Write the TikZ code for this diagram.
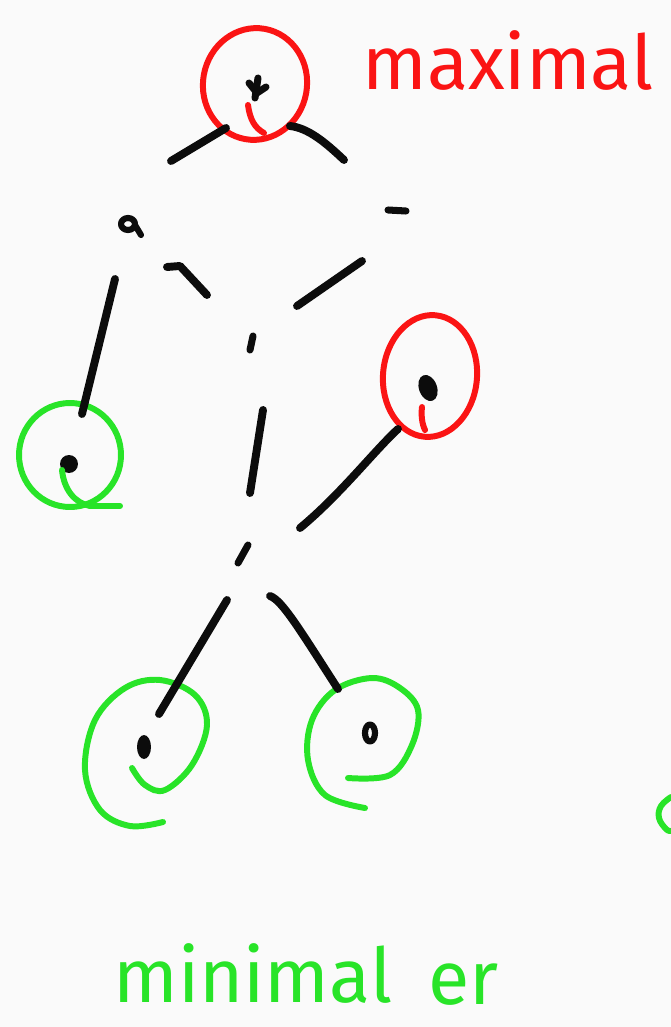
\documentclass[tikz,border=0pt]{standalone}
\usepackage{fontspec}
\setmainfont{Fira Sans}
\usetikzlibrary{calc}
\definecolor{pen}{RGB}{12,12,12}
\definecolor{penred}{RGB}{250,20,20}
\definecolor{pengreen}{RGB}{40,228,40}
\definecolor{paper}{RGB}{250,250,250}
\begin{document}
\begin{tikzpicture}[x=0.02cm,y=-0.02cm,
  edge/.style={draw=pen, line width=4.5pt, line cap=round, line join=round},
  scrib/.style={draw=pen, line width=4pt, line cap=round, line join=round},
  ringred/.style={draw=penred, line width=3.4pt, line cap=round},
  ringgreen/.style={draw=pengreen, line width=3.4pt, line cap=round},
  lab/.style={font=\fontsize{43}{50}\selectfont, inner sep=0pt, anchor=base west}]
% canvas
\fill[paper] (0,0) rectangle (671,1027);
\useasboundingbox (0,0) rectangle (671,1027);

% element positions
\coordinate (t) at (257,87);
\coordinate (a) at (128,226);
\coordinate (b) at (397,210);
\coordinate (c) at (252,343);
\coordinate (d) at (428,388);
\coordinate (e) at (69,464);
\coordinate (f) at (243,554);
\coordinate (g) at (144,747);
\coordinate (h) at (370,733);

% element marks
\draw[scrib] ($(t)+(-8,-4)$) -- ($(t)+(0,6)$) -- ($(t)+(9,0)$);
\draw[scrib] ($(t)+(1,-9)$) -- ($(t)+(-2,11)$);
\draw[scrib, line width=3.5pt] ($(a)+(0,-2)$) ellipse[x radius=0.14cm, y radius=0.12cm];
\draw[scrib, line width=3.5pt] ($(a)+(7,-1)$) -- ($(a)+(13,9)$);
\draw[scrib] ($(b)+(-9,0)$) -- ($(b)+(9,1)$);
\draw[scrib] ($(c)+(1,-7)$) -- ($(c)+(-2,7)$);
\fill[pen, rotate around={20:(d)}] (d) ellipse[x radius=0.18cm, y radius=0.27cm];
\fill[pen] (e) circle[radius=0.18cm];
\draw[scrib] ($(f)+(5,-9)$) -- ($(f)+(-5,9)$);
\fill[pen] (g) ellipse[x radius=0.14cm, y radius=0.24cm];
\draw[scrib, line width=3.5pt] (h) ellipse[x radius=0.1cm, y radius=0.17cm];

% circles (red = maximal, green = minimal)
\draw[ringred, rotate around={-10:(255,84)}] (255,84) ellipse[x radius=1.04cm, y radius=1.12cm];
\draw[ringred] (248,105) .. controls (250,120) and (255,128) .. (264,133);
\draw[ringred, rotate around={-5:(430,376)}] (430,376) ellipse[x radius=0.94cm, y radius=1.22cm];
\draw[ringred] (422,407) .. controls (421,415) and (422,424) .. (425,430);
\draw[ringgreen] (70,455) ellipse[x radius=1.02cm, y radius=1.04cm];
\draw[ringgreen] (62,470) .. controls (64,490) and (75,503) .. (90,506) -- (120,506);
\draw[ringgreen] plot[smooth, tension=0.6] coordinates {(132,768) (145,785) (165,790) (192,765) (207,725) (195,695) (160,680) (125,688) (95,720) (85,770) (100,810) (130,826) (163,822)};
\draw[ringgreen] plot[smooth, tension=0.6] coordinates {(348,778) (390,775) (412,745) (418,710) (400,688) (372,678) (335,690) (312,720) (308,760) (325,795) (365,808)};
\draw[ringgreen] plot[smooth, tension=0.7] coordinates {(671,797) (661,806) (659,818) (666,829) (671,831)};

% connectors (Hasse edges, drawn as broken hand strokes)
\coordinate (ta1) at (226,128); \coordinate (ta2) at (171,161);
\coordinate (tb1) at (290,126); \coordinate (tb2) at (344,160);
\coordinate (ac1) at (167,267); \coordinate (ac2) at (207,295);
\coordinate (bc1) at (362,261); \coordinate (bc2) at (297,306);
\coordinate (ae1) at (115,279); \coordinate (ae2) at (82,414);
\coordinate (cf1) at (263,410); \coordinate (cf2) at (250,493);
\coordinate (df1) at (398,429); \coordinate (df2) at (300,528);
\coordinate (fg1) at (227,600); \coordinate (fg2) at (159,714);
\coordinate (fh1) at (270,596); \coordinate (fh2) at (338,689);

\draw[edge] (ta1) -- (ta2);
\draw[edge] (tb1) .. controls (308,128) and (325,142) .. (tb2);
\draw[edge] (ac1) -- (180,266) -- (ac2);
\draw[edge] (bc1) -- (bc2);
\draw[edge] (ae1) -- (ae2);
\draw[edge] (cf1) -- (cf2);
\draw[edge] (df1) .. controls (375,450) and (340,495) .. (df2);
\draw[edge] (fg1) -- (fg2);
\draw[edge] (fh1) .. controls (282,600) and (300,630) .. (fh2);

% labels
\node[lab, text=penred] (maxlab) at (362,90) {maximal};
\node[lab, text=pengreen] (minlab) at (113,1002) {minimal};
\node[lab, text=pengreen] (erlab) at (428,1004) {er};
\end{tikzpicture}
\end{document}
